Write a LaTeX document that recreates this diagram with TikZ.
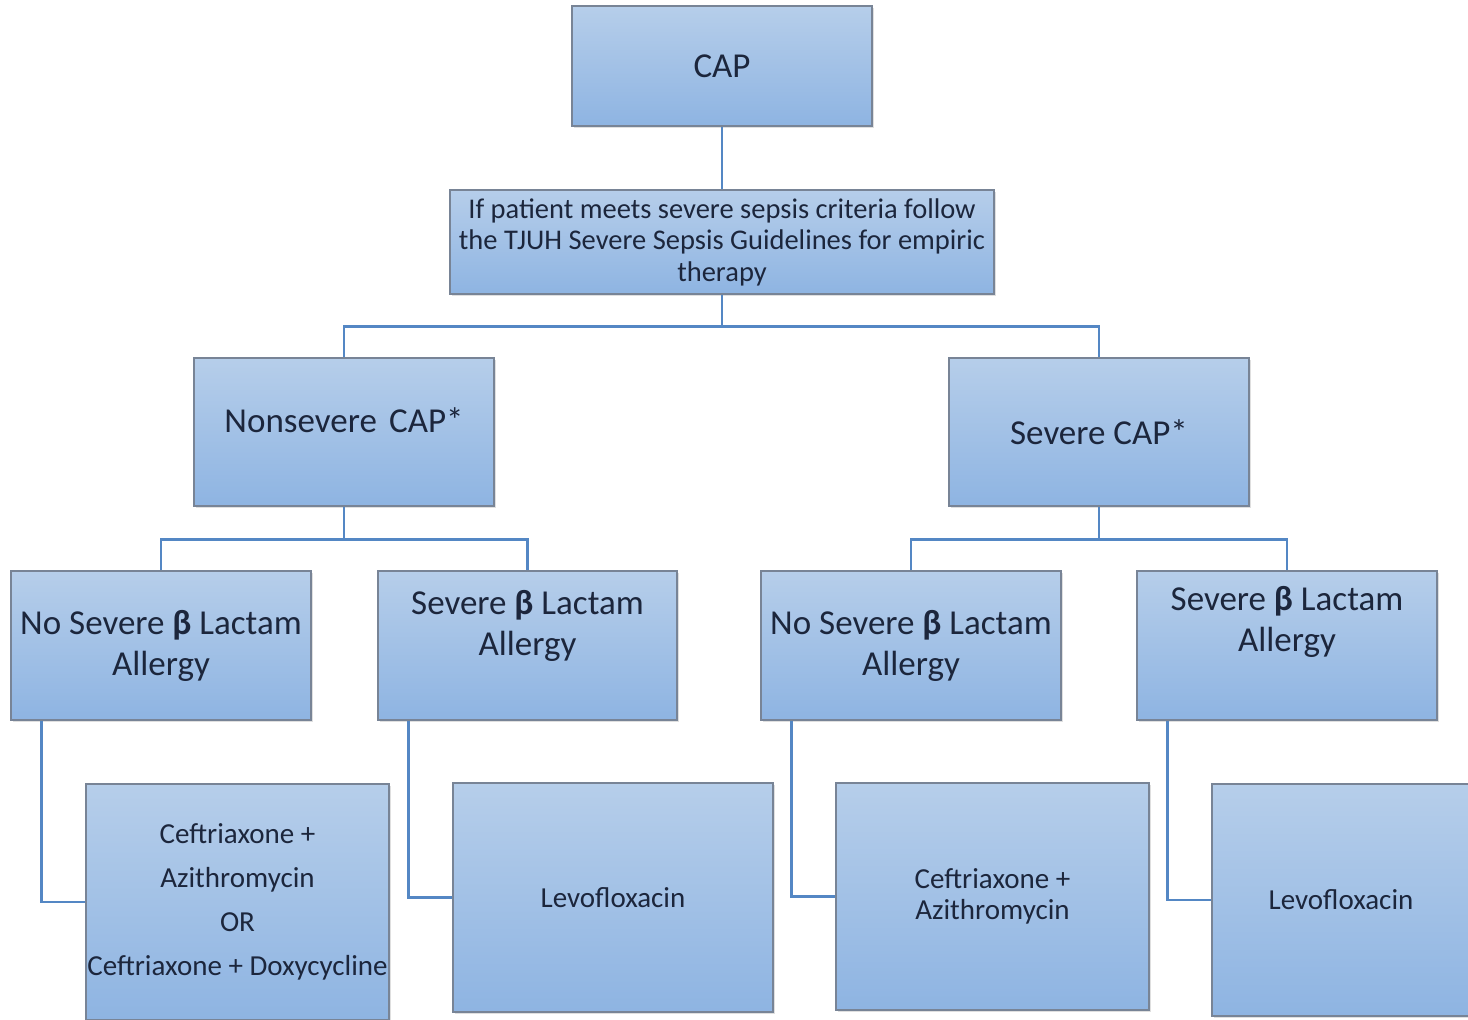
\documentclass[tikz,border=0pt]{standalone}
\usepackage{fontspec}
\setmainfont{Carlito}
\usetikzlibrary{shadows}
\definecolor{boxtop}{RGB}{182,206,234}
\definecolor{boxbot}{RGB}{142,180,226}
\definecolor{boxedge}{RGB}{120,132,150}
\definecolor{linkblue}{RGB}{84,135,196}
\definecolor{ink}{RGB}{28,38,60}
\tikzset{
  tbox/.style={draw=boxedge, line width=1.4pt, top color=boxtop, bottom color=boxbot,
    drop shadow={shadow xshift=2pt, shadow yshift=-2pt, opacity=0.25},
    inner sep=0pt, text=ink, align=center},
  txt/.style={text=ink, align=center, inner sep=0pt},
  bigfont/.style={font=\fontsize{35}{41}\selectfont},
  midfont/.style={font=\fontsize{28.5}{31.5}\selectfont},
  drugfont/.style={font=\fontsize{29}{44}\selectfont},
  link/.style={draw=linkblue, line width=2.6pt}
}
\newcommand{\bet}{{\bfseries β}}

\begin{document}
\begin{tikzpicture}[x=1pt,y=-1pt]
        \clip (0,0) rectangle (1468,1020);
        \fill[white] (0,0) rectangle (1468,1020);
        \node[tbox, bigfont, minimum width=300, minimum height=120] (cap) at (722,66) {CAP};
        \node[tbox, midfont, minimum width=544, minimum height=104] (sepsis) at (722,242)
          {If patient meets severe sepsis criteria follow\\the TJUH Severe Sepsis Guidelines for empiric\\therapy};
        \node[tbox, minimum width=300, minimum height=148] (nonsev) at (344,432) {};
        \node[txt, bigfont] (nonsevtxt) at ([yshift=12pt]nonsev.center) {Nonsevere\hspace{0.35em}CAP*};
        \node[tbox, bigfont, minimum width=300, minimum height=148] (sev) at (1099,432) {Severe CAP*};
        \node[tbox, bigfont, minimum width=300, minimum height=149] (nsA) at (161,645.5)
          {No Severe \bet\ Lactam\\Allergy};
        \node[tbox, minimum width=299, minimum height=149] (sA) at (527.5,645.5) {};
        \node[txt, bigfont] (sAtxt) at ([yshift=20pt]sA.center) {Severe \bet\ Lactam\\Allergy};
        \node[tbox, bigfont, minimum width=300, minimum height=149] (nsB) at (911,645.5)
          {No Severe \bet\ Lactam\\Allergy};
        \node[tbox, minimum width=300, minimum height=149] (sB) at (1287,645.5) {};
        \node[txt, bigfont] (sBtxt) at ([yshift=24pt]sB.center) {Severe \bet\ Lactam\\Allergy};
        \node[tbox, drugfont, minimum width=303, minimum height=236] (drugA) at (237.5,902)
          {Ceftriaxone +\\Azithromycin\\OR\\Ceftriaxone + Doxycycline};
        \node[tbox, drugfont, minimum width=320, minimum height=229] (drugB) at (613,897.5) {Levofloxacin};
        \node[tbox, font=\fontsize{29}{31}\selectfont, minimum width=313, minimum height=227] (drugC) at (992.5,896.5)
          {Ceftriaxone +\\Azithromycin};
        \node[tbox, drugfont, minimum width=258, minimum height=232] (drugD) at (1341,900) {Levofloxacin};
        \draw[link] (cap.south) -- (sepsis.north);
        \coordinate (splitTop) at ([yshift=-32pt]sepsis.south);
        \draw[link] (sepsis.south) -- (splitTop) -| (nonsev.north);
        \draw[link] (splitTop) -| (sev.north);
        \coordinate (splitL) at ([yshift=-33pt]nonsev.south);
        \draw[link] (nonsev.south) -- (splitL) -| (nsA.north);
        \draw[link] (splitL) -| (sA.north);
        \coordinate (splitR) at ([yshift=-33pt]sev.south);
        \draw[link] (sev.south) -- (splitR) -| (nsB.north);
        \draw[link] (splitR) -| (sB.north);
        \foreach \from/\to in {nsA/drugA, sA/drugB, nsB/drugC, sB/drugD}
          \draw[link] ([xshift=31pt]\from.south west) |- (\to.west);
      \end{tikzpicture}
\end{document}
